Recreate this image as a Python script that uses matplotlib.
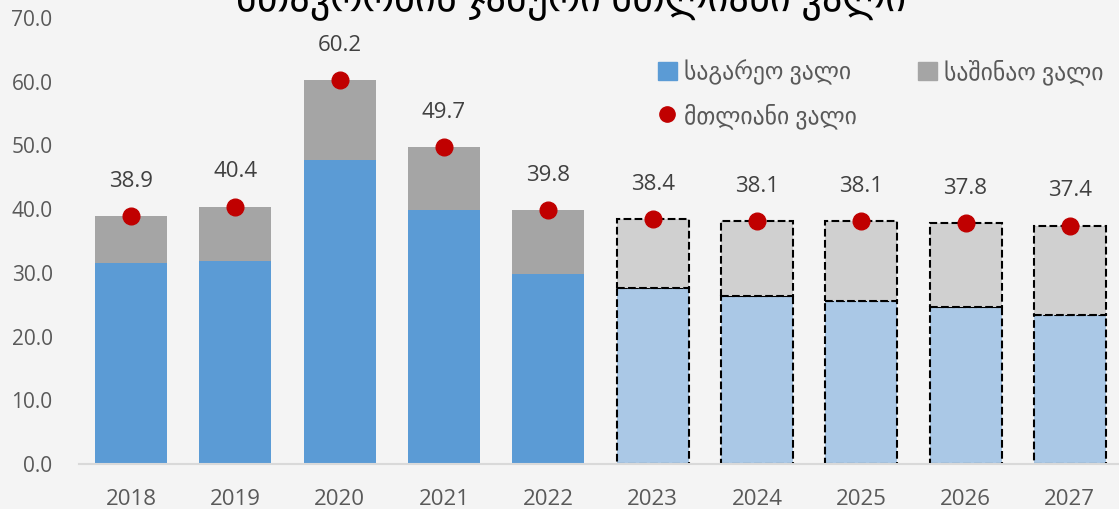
import matplotlib
matplotlib.use("Agg")
import matplotlib.pyplot as plt
from matplotlib.patches import Patch
from matplotlib.lines import Line2D

years = ["2018", "2019", "2020", "2021", "2022", "2023", "2024", "2025", "2026", "2027"]
external = [31.6, 31.9, 47.7, 39.9, 29.8, 27.6, 26.4, 25.6, 24.6, 23.4]
total = [38.9, 40.4, 60.2, 49.7, 39.8, 38.4, 38.1, 38.1, 37.8, 37.4]
domestic = [t - e for t, e in zip(total, external)]
n_actual = 5

title = "მთავრობის ჯამური მთლიანი ვალი"
lbl_ext = "საგარეო ვალი"
lbl_dom = "საშინაო ვალი"
lbl_tot = "მთლიანი ვალი"

plt.rcParams['font.family'] = ['Open Sans', 'DejaVu Sans']

bg = "#f4f4f4"
fig = plt.figure(figsize=(11.19, 5.09), dpi=100, facecolor=bg)
ax = fig.add_axes([79 / 1119, 45 / 509, 1043 / 1119, 446 / 509], facecolor=bg)

x = list(range(len(years)))
w = 0.69
for i in x:
    if i < n_actual:
        ax.bar(i, external[i], w, color="#5b9bd5")
        ax.bar(i, domestic[i], w, bottom=external[i], color="#a5a5a5")
    else:
        ax.bar(i, external[i], w, color="#aac8e6", edgecolor="black", linestyle="--", linewidth=1.5)
        ax.bar(i, domestic[i], w, bottom=external[i], color="#d0d0d0", edgecolor="black", linestyle="--", linewidth=1.5)

ax.plot(x, total, "o", color="#c00000", markersize=12, zorder=5)
for i, v in zip(x, total):
    ax.annotate(f"{v:.1f}", (i, v), xytext=(0, 25), textcoords="offset points",
                ha="center", va="center", fontsize=16, color="#404040")

ax.set_xlim(-0.5, 9.5)
ax.set_ylim(0, 70)
ax.set_yticks(range(0, 71, 10))
ax.set_yticklabels([f"{v:.1f}" for v in range(0, 71, 10)])
ax.set_xticks(x)
ax.set_xticklabels(years)
ax.tick_params(axis="y", length=0, pad=19, labelsize=15, labelcolor="#595959")
ax.tick_params(axis="x", length=0, pad=18, labelsize=16, labelcolor="#595959")
for s in ["top", "right", "left"]:
    ax.spines[s].set_visible(False)
ax.spines["bottom"].set_color("#d9d9d9")
ax.spines["bottom"].set_linewidth(1.5)
ax.spines["bottom"].set_zorder(6)

handles = [Patch(color="#5b9bd5"),
           Line2D([], [], marker="o", color="#c00000", linestyle="none", markersize=11),
           Patch(color="#a5a5a5")]
labels = [lbl_ext, lbl_tot, lbl_dom]
fig.legend(handles, labels, ncol=2, loc="upper left", bbox_to_anchor=(658 / 1119, 1 - 60 / 509),
           frameon=False, fontsize=17, handlelength=0.8, handleheight=0.8, handletextpad=0.3,
           columnspacing=2.6, labelspacing=0.75, borderaxespad=0, borderpad=0,
           labelcolor="#595959")

fig.text(0.51, 1 - 11 / 509, title, ha="center", va="baseline", fontsize=29, color="black")

fig.savefig("out.png", dpi=100, facecolor=bg)
